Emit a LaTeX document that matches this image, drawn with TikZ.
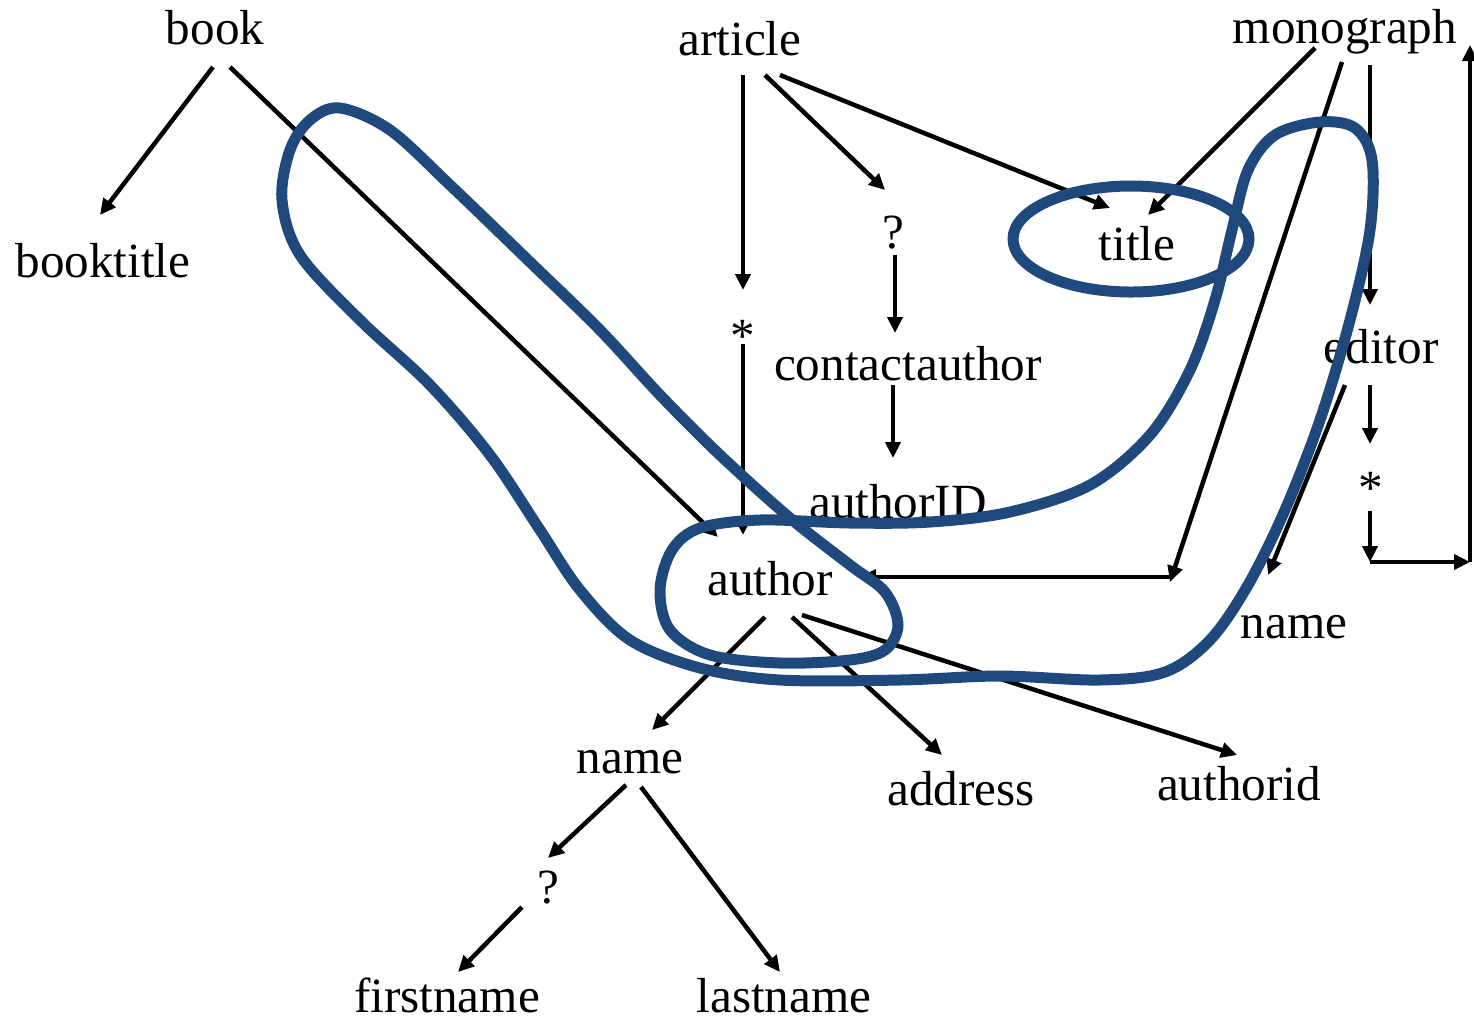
\documentclass[tikz,border=0pt]{standalone}
\usepackage{fontspec}
\setmainfont{Liberation Serif}
\usetikzlibrary{arrows.meta,calc}
\definecolor{LoopBlue}{HTML}{1F497D}

\tikzset{
  lbl/.style={anchor=base,inner sep=0pt,font=\fontsize{28}{32}\selectfont},
  arr/.style={line width=0.09cm,-{Triangle[length=0.32cm,width=0.3cm]}},
  loopline/.style={LoopBlue,line width=0.22cm}
}

\begin{document}
\begin{tikzpicture}[x=0.02cm,y=-0.02cm]
\path[use as bounding box] (0,0) rectangle (1474,1019);
% element names
\node[lbl] (book) at (215,44) {book};
\node[lbl] (booktitle) at (103,277) {booktitle};
\node[lbl] (article) at (740,55) {article};
\node[lbl] (monograph) at (1345,43) {monograph};
\node[lbl] (optA) at (893,248) {?};
\node[lbl] (title) at (1137,260) {title};
\node[lbl] (starA) at (743,352) {*};
\node[lbl] (contactauthor) at (908,380) {contactauthor};
\node[lbl] (editor) at (1381,363) {editor};
\node[lbl] (authorID) at (898,518) {authorID};
\node[lbl] (starB) at (1371,504) {*};
\node[lbl] (author) at (770,595) {author};
\node[lbl] (ename) at (1294,638) {name};
\node[lbl] (aname) at (630,773) {name};
\node[lbl] (address) at (961,805) {address};
\node[lbl] (authorid) at (1239,800) {authorid};
\node[lbl] (optB) at (548,903) {?};
\node[lbl] (firstname) at (447,1012) {firstname};
\node[lbl] (lastname) at (784,1012) {lastname};
\coordinate (mjoin) at (1170,582);
\coordinate (ecorner) at (1370,562);
\coordinate (eright) at (1470,562);
\coordinate (etop) at (1470,45);

% edges
\draw[arr] ($(book.base)+(-2,23)$) -- ($(booktitle.base)+(-3,-62)$);
\draw[arr] ($(book.base)+(15,23)$) -- ($(author.base)+(-52,-58)$);
\draw[arr] ($(article.base)+(3,20)$) -- ($(starA.base)+(0,-62)$);
\draw[arr] ($(article.base)+(25,20)$) -- ($(optA.base)+(-8,-58)$);
\draw[arr] ($(article.base)+(40,20)$) -- ($(title.base)+(-27,-52)$);
\draw[arr] ($(monograph.base)+(-30,5)$) -- ($(title.base)+(11,-45)$);
\draw[arr] ($(monograph.base)+(-3,19)$) -- (mjoin);
\draw[arr] ($(monograph.base)+(25,22)$) -- ($(editor.base)+(-11,-58)$);
\draw[arr] (mjoin |- 0,577) -- ($(author.base)+(90,-18)$);
\draw[arr] ($(optA.base)+(2,7)$) -- ($(contactauthor.base)+(-13,-47)$);
\draw[arr] ($(contactauthor.base)+(-15,5)$) -- ($(authorID.base)+(-5,-60)$);
\draw[arr] ($(starA.base)+(0,-8)$) -- ($(author.base)+(-27,-60)$);
\draw[arr] ($(editor.base)+(-36,22)$) -- ($(ename.base)+(-26,-63)$);
\draw[arr] ($(editor.base)+(-11,22)$) -- ($(starB.base)+(-1,-60)$);
\draw[arr] ($(starB.base)+(-1,7)$) -- (ecorner);
\draw[arr] (ecorner) -- (eright);
\draw[arr] (eright) -- (etop);
\draw[arr] ($(author.base)+(-5,22)$) -- ($(aname.base)+(22,-43)$);
\draw[arr] ($(author.base)+(22,22)$) -- ($(address.base)+(-19,-50)$);
\draw[arr] ($(author.base)+(32,20)$) -- ($(authorid.base)+(-2,-45)$);
\draw[arr] ($(aname.base)+(-4,12)$) -- ($(optB.base)+(0,-45)$);
\draw[arr] ($(aname.base)+(11,14)$) -- ($(lastname.base)+(-4,-40)$);
\draw[arr] ($(optB.base)+(-26,4)$) -- ($(firstname.base)+(11,-40)$);

% selection loops
\draw[loopline] (1131,239) ellipse [x radius=118,y radius=53];
\draw[loopline] plot[smooth cycle,tension=0.55] coordinates {
  (340,108) (390,130) (450,185) (530,262) (600,330) (660,395) (720,455)
  (790,518) (850,565) (885,592) (898,625) (885,650) (850,660) (780,663)
  (710,655) (670,630) (660,590) (672,550) (700,528) (760,520) (850,523)
  (930,522) (1010,512) (1090,485) (1150,435) (1190,370) (1215,300)
  (1232,230) (1248,170) (1275,135) (1320,122) (1355,128) (1372,160)
  (1370,230) (1350,320) (1320,420) (1285,510) (1248,585) (1210,640)
  (1165,672) (1100,680) (1000,676) (900,680) (780,680) (700,668)
  (630,640) (580,590) (540,530) (490,455) (430,385) (360,320) (300,255)
  (282,200) (290,150) (310,120)};
\end{tikzpicture}
\end{document}
